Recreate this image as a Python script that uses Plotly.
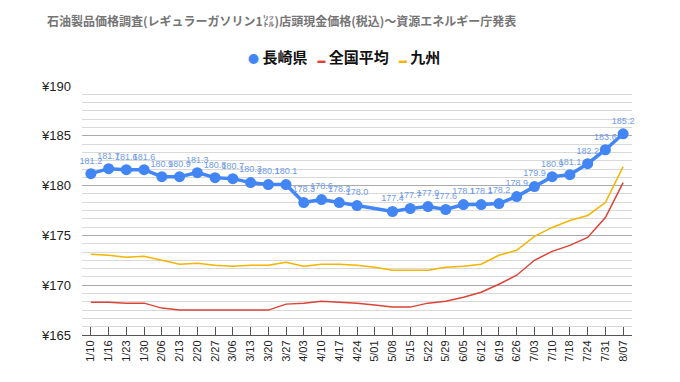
import plotly.graph_objects as go

dates = ["1/10","1/16","1/23","1/30","2/06","2/13","2/20","2/27","3/06","3/13","3/20","3/27",
         "4/03","4/10","4/17","4/24","5/01","5/08","5/15","5/22","5/29","6/05","6/12","6/19",
         "6/26","7/03","7/10","7/18","7/24","7/31","8/07"]
nagasaki = [181.2,181.7,181.6,181.6,180.9,180.9,181.3,180.8,180.7,180.3,180.1,180.1,
            178.3,178.6,178.3,178.0,None,177.4,177.7,177.9,177.6,178.1,178.1,178.2,
            178.9,179.9,180.9,181.1,182.2,183.6,185.2]
national = [168.3,168.3,168.2,168.2,167.7,167.5,167.5,167.5,167.5,167.5,167.5,168.1,
            168.2,168.4,168.3,168.2,168.0,167.8,167.8,168.2,168.4,168.8,169.3,170.1,
            171.0,172.5,173.4,174.0,174.8,176.8,180.3]
kyushu = [173.1,173.0,172.8,172.9,172.5,172.1,172.2,172.0,171.9,172.0,172.0,172.3,
          171.9,172.1,172.1,172.0,171.8,171.5,171.5,171.5,171.8,171.9,172.1,173.0,
          173.5,174.9,175.8,176.5,177.0,178.3,181.9]
yticks = [165,170,175,180,185,190]
ytick_text = ["¥165","¥170","¥175","¥180","¥185","¥190"]
series_names = ["長崎県", "全国平均", "九州"]
colors = ["#4285F4", "#DB4437", "#F4B400"]
title_text = "石油製品価格調査(レギュラーガソリン1㍑)店頭現金価格(税込)～資源エネルギー庁発表"

labels = [f"{v:.1f}" if v is not None else "" for v in nagasaki]

fig = go.Figure()
fig.add_trace(go.Scatter(
    x=dates, y=national, name=series_names[1], mode="lines",
    line=dict(color=colors[1], width=1.5), showlegend=False,
))
fig.add_trace(go.Scatter(
    x=dates, y=kyushu, name=series_names[2], mode="lines",
    line=dict(color=colors[2], width=1.5), showlegend=False,
))
fig.add_trace(go.Scatter(
    x=dates, y=nagasaki, name=series_names[0], mode="lines+markers+text",
    connectgaps=True, cliponaxis=False,
    line=dict(color=colors[0], width=3.5),
    marker=dict(color=colors[0], size=11),
    text=labels, textposition="top center",
    textfont=dict(family="Liberation Sans, Arial", size=9, color="#6E9BEA"),
    showlegend=False,
))

legend_html = (
    f"<span style='color:{colors[0]};font-size:11px'>●</span> <b>{series_names[0]}</b>"
    f"   <span style='color:{colors[1]};font-size:8px'>▬</span> <b>{series_names[1]}</b>"
    f"   <span style='color:{colors[2]};font-size:8px'>▬</span> <b>{series_names[2]}</b>"
)

L, R, T, B = 82, 48, 86, 47
H = 382 - T - B
fig.update_layout(
    width=680, height=382,
    margin=dict(l=L, r=R, t=T, b=B, autoexpand=False),
    paper_bgcolor="white", plot_bgcolor="white",
    font=dict(family="Noto Sans CJK JP, Liberation Sans, Arial", color="#000"),
    title=dict(
        text="<b>" + title_text + "</b>",
        x=47/680, xref="container", xanchor="left",
        y=1 - 22/382, yref="container", yanchor="middle",
        font=dict(size=12, color="#757575", family="Noto Sans CJK JP"),
    ),
    showlegend=False,
    annotations=[dict(
        text=legend_html, xref="paper", yref="paper",
        x=(344 - L) / (680 - L - R), y=(382 - B - 56) / H,
        xanchor="center", yanchor="middle", showarrow=False,
        font=dict(size=15, color="#111", family="Noto Sans CJK JP"),
    )],
)

fig.update_xaxes(
    type="category", range=[-0.5, len(dates) - 0.5],
    tickangle=-90, tickfont=dict(size=11, family="Liberation Sans, Arial", color="#222"),
    ticks="inside", ticklen=8, tickcolor="#555",
    showline=True, linecolor="#555", linewidth=1,
    showgrid=False, zeroline=False, automargin=False,
)
fig.update_yaxes(
    range=[165, 190], tickvals=yticks, ticktext=ytick_text,
    tickfont=dict(size=13, family="Liberation Sans, Arial", color="#222"),
    showgrid=True, gridcolor="#AAAAAA", gridwidth=1,
    minor=dict(dtick=5/6, tick0=165, showgrid=True, gridcolor="#D9D9D9", gridwidth=1),
    zeroline=False, ticks="", ticklabelstandoff=10, automargin=False,
)

fig.write_html("out.html", config={"displayModeBar": False},
               post_script="document.body.style.margin='0';")
